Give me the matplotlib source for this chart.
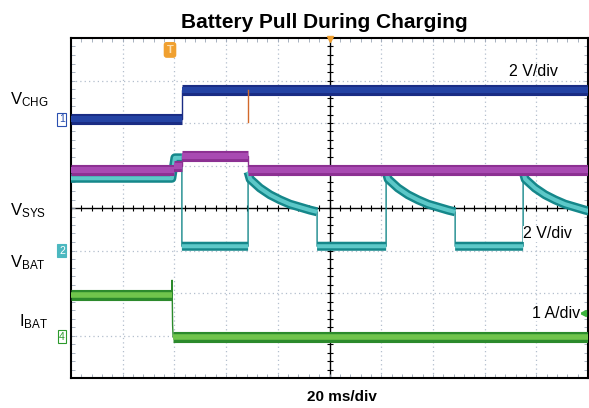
import numpy as np
import matplotlib
matplotlib.use("Agg")
import matplotlib.pyplot as plt

plt.rcParams['font.family'] = ['Liberation Sans', 'DejaVu Sans']
plt.rcParams['mathtext.fontset'] = 'custom'
plt.rcParams['mathtext.rm'] = 'Liberation Sans'

# ---------------- data (time in ms, amplitude in screen divisions) ----------------
t_vchg = [0, 43.0, 43.0, 200]
v_vchg = [6.09, 6.09, 6.78, 6.78]

t_vsys = [0, 40.0, 40.0, 43.0, 43.0, 68.5, 68.5, 200]
v_vsys = [4.9, 4.9, 4.98, 4.98, 5.22, 5.22, 4.9, 4.9]

t_vbat_start = [0, 39.0, 40.2, 42.9, 42.9, 68.5]
v_vbat_start = [4.7, 4.7, 5.18, 5.18, 3.1, 3.1]
vbat_low = 3.1
decay_dt = [0, 0.8, 4.6, 8.5, 12.4, 16.2, 20.1, 24.0, 26.7]
decay_v = [4.85, 4.68, 4.47, 4.31, 4.19, 4.09, 4.02, 3.95, 3.91]
cycle_starts = [68.5, 121.9, 174.9]

t_ibat = [0, 38.9, 39.1, 39.3, 39.5, 200]
v_ibat = [1.95, 1.95, 2.3, 1.25, 0.96, 0.96]

spike_t = 68.5
spike_v = [6.78, 6.02]

# ---------------- build VBAT trace ----------------
t_vbat = list(t_vbat_start)
v_vbat = list(v_vbat_start)
for i, s in enumerate(cycle_starts):
    for dt, v in zip(decay_dt, decay_v):
        t_vbat.append(s + dt)
        v_vbat.append(v)
    end = s + decay_dt[-1]
    t_vbat.append(end)
    v_vbat.append(vbat_low)
    nxt = cycle_starts[i + 1] if i + 1 < len(cycle_starts) else 210
    t_vbat.append(nxt)
    v_vbat.append(vbat_low)

fig = plt.figure(figsize=(5.89, 4.08), dpi=100)
ax = fig.add_axes([71 / 589, 1 - 378 / 408, 517 / 589, 340 / 408])
ax.set_xlim(0, 200)
ax.set_ylim(0, 8)

# grid
for gx in range(20, 200, 20):
    if gx != 100:
        ax.axvline(gx, color='#b3bfcd', lw=0.9, ls=(0, (1, 2.5)), zorder=1)
for gy in range(1, 8):
    if gy != 4:
        ax.axhline(gy, color='#b3bfcd', lw=0.9, ls=(0, (1, 2.5)), zorder=1)
ax.axhline(4, color='black', lw=1.0, zorder=1.5)
ax.axvline(100, color='black', lw=1.0, zorder=1.5)
ax.plot(np.arange(0, 201, 4), [4] * 51, ls='none', marker='|', ms=4, color='black', mew=0.8, zorder=1.5)
ax.plot([100] * 41, np.arange(0, 8.01, 0.2), ls='none', marker='_', ms=4, color='black', mew=0.8, zorder=1.5)


def band(t, v, edge, fill, w, z, ratio=0.45):
    t = np.asarray(t, float)
    v = np.asarray(v, float)
    tt, vv = [t[0]], [v[0]]
    for i in range(1, len(t)):
        if t[i] - t[i - 1] < 0.5:
            tt.append(np.nan)
            vv.append(np.nan)
        tt.append(t[i])
        vv.append(v[i])
    ax.plot(t, v, color=edge, lw=1.0, zorder=z)
    ax.plot(tt, vv, color=edge, lw=w, solid_capstyle='butt', zorder=z)
    ax.plot(tt, vv, color=fill, lw=w * ratio, solid_capstyle='butt', zorder=z)


band(t_vchg, v_vchg, '#1a2c84', '#2443a4', 8.0, 3, 0.55)
ax.plot([spike_t, spike_t], spike_v, color='#d2692a', lw=1.0, zorder=3)
band(t_vbat, v_vbat, '#15878a', '#5cc8c8', 6.5, 4)
band(t_vsys, v_vsys, '#8c3092', '#a84ab2', 8.0, 5, 0.55)
band(t_ibat, v_ibat, '#2c8a2c', '#70c44c', 8.0, 6, 0.5)

# frame and ticks
for sp in ax.spines.values():
    sp.set_linewidth(1.5)
    sp.set_color('black')
ax.set_xticks([])
ax.set_yticks([])
ax.set_xticks(np.arange(0, 201, 4), minor=True)
ax.set_yticks(np.arange(0, 8.01, 0.2), minor=True)
ax.tick_params(which='minor', direction='in', length=3, color='#9aa6b6',
               top=True, right=True, labelbottom=False, labelleft=False)

# channel markers
ax.text(-3.5, 6.09, '1', transform=ax.transData, clip_on=False, ha='center', va='center',
        fontsize=7.5, color='#2a4fb0',
        bbox=dict(boxstyle='square,pad=0.15', fc='white', ec='#2a4fb0', lw=0.8))
ax.text(-3.5, 3.0, '2', transform=ax.transData, clip_on=False, ha='center', va='center',
        fontsize=7.5, color='white',
        bbox=dict(boxstyle='square,pad=0.15', fc='#4cb8c0', ec='#4cb8c0', lw=0.8))
ax.text(-3.5, 0.97, '4', transform=ax.transData, clip_on=False, ha='center', va='center',
        fontsize=7.5, color='#2c9a2c',
        bbox=dict(boxstyle='square,pad=0.15', fc='white', ec='#2c9a2c', lw=0.8))
ax.text(38.3, 7.72, 'T', ha='center', va='center', fontsize=8, color='#ffe0b0', fontweight='bold',
        bbox=dict(boxstyle='round,pad=0.2', fc='#f0a030', ec='#f0a030'))
ax.plot([100], [7.97], marker='v', ms=5, color='#f0a030', clip_on=False, zorder=8)
ax.plot([198], [1.53], marker='<', ms=5, color='#3cb43c', clip_on=False, zorder=8)

# right-side scale labels
ax.text(169.3, (378 - 72) / 42.5, '2 V/div', ha='left', va='center', fontsize=11.5, zorder=9)
ax.text(175.0, (378 - 234) / 42.5, '2 V/div', ha='left', va='center', fontsize=11.5, zorder=9,
        bbox=dict(boxstyle='square,pad=0.05', fc='white', ec='none'))
ax.text(178.5, (378 - 313) / 42.5, '1 A/div', ha='left', va='center', fontsize=11.5, zorder=9,
        bbox=dict(boxstyle='square,pad=0.05', fc='white', ec='none'))

# left labels
fig.text(10 / 589, 1 - 100 / 408, r'$\mathregular{V_{CHG}}$', fontsize=12, ha='left', va='center')
fig.text(10 / 589, 1 - 211 / 408, r'$\mathregular{V_{SYS}}$', fontsize=12, ha='left', va='center')
fig.text(10 / 589, 1 - 263 / 408, r'$\mathregular{V_{BAT}}$', fontsize=12, ha='left', va='center')
fig.text(19 / 589, 1 - 322 / 408, r'$\mathregular{I_{BAT}}$', fontsize=12, ha='left', va='center')

fig.text(324 / 589, 1 - 22 / 408, 'Battery Pull During Charging', fontsize=15, fontweight='bold',
         ha='center', va='center')
fig.text(342 / 589, 1 - 397 / 408, '20 ms/div', fontsize=11, fontweight='bold',
         ha='center', va='center')

fig.savefig('out.png', dpi=100)
